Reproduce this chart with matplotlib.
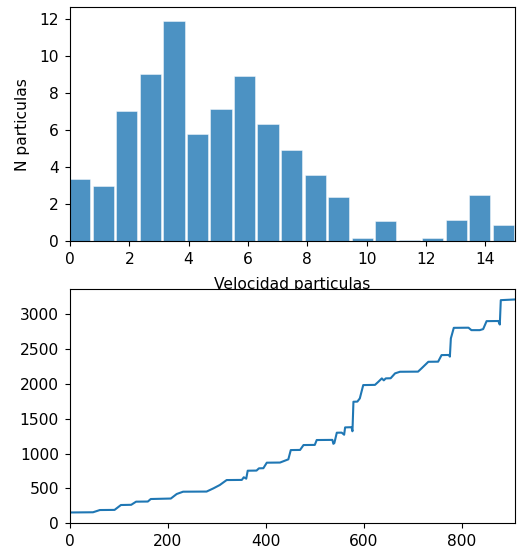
import numpy as np
import matplotlib
matplotlib.use("Agg")
import matplotlib.pyplot as plt

plt.rcParams['font.size'] = 11.2
plt.rcParams['xtick.major.pad'] = 4.5
plt.rcParams['ytick.major.pad'] = 4.5

# Histogram of particle speeds (19 bins)
vel_range = (-0.067, 15.007)
n_particles = [3.35, 2.99, 7.03, 9.03, 11.89, 5.78, 7.10, 8.90, 6.29, 4.90,
               3.55, 2.36, 0.14, 1.08, 0.07, 0.14, 1.13, 2.49, 0.86]

# Accumulated curve
step = [0, 47, 61, 91, 104, 125, 135, 159, 165, 206, 218, 231, 279, 293, 306,
        320, 351, 355, 360, 363, 381, 386, 395, 402, 429, 446, 451, 470, 477,
        500, 504, 536, 538, 540, 545, 555, 560, 562, 575, 577, 579, 587, 592,
        599, 623, 630, 637, 641, 645, 655, 664, 674, 711, 718, 732, 752, 759,
        774, 776, 778, 784, 814, 820, 837, 844, 851, 875, 878, 880, 909]
total = [155, 158, 190, 192, 262, 265, 310, 312, 348, 355, 420, 453, 455, 501,
         549, 620, 622, 660, 640, 754, 756, 788, 790, 869, 871, 917, 1050,
         1052, 1122, 1124, 1194, 1196, 1140, 1150, 1299, 1300, 1270, 1375,
         1378, 1320, 1743, 1745, 1791, 1982, 1985, 2030, 2078, 2050, 2078,
         2080, 2150, 2173, 2175, 2221, 2316, 2318, 2412, 2414, 2390, 2651,
         2803, 2805, 2770, 2770, 2785, 2899, 2901, 2850, 3200, 3210]

fig = plt.figure(figsize=(5.17, 5.51), dpi=100)

ax1 = fig.add_axes([0.1354, 0.5626, 0.8607, 0.4238])
edges = np.linspace(vel_range[0], vel_range[1], len(n_particles) + 1)
bw = edges[1] - edges[0]
centers = (edges[:-1] + edges[1:]) / 2
ax1.bar(centers, n_particles, width=0.9 * bw, color='#1f77b4', alpha=0.8,
        edgecolor='white', linewidth=0.4)
ax1.set_xlim(0, 15)
ax1.set_ylim(0, 12.6)
ax1.set_xlabel('Velocidad particulas', labelpad=7)
ax1.set_ylabel('N particulas', labelpad=7)

ax2 = fig.add_axes([0.1354, 0.0503, 0.8607, 0.4252])
ax2.plot(step, total, color='#1f77b4', linewidth=1.5)
ax2.set_xlim(0, 909)
ax2.set_ylim(0, 3360)
ax2.set_yticks([0, 500, 1000, 1500, 2000, 2500, 3000])

fig.savefig('out.png', dpi=100)
